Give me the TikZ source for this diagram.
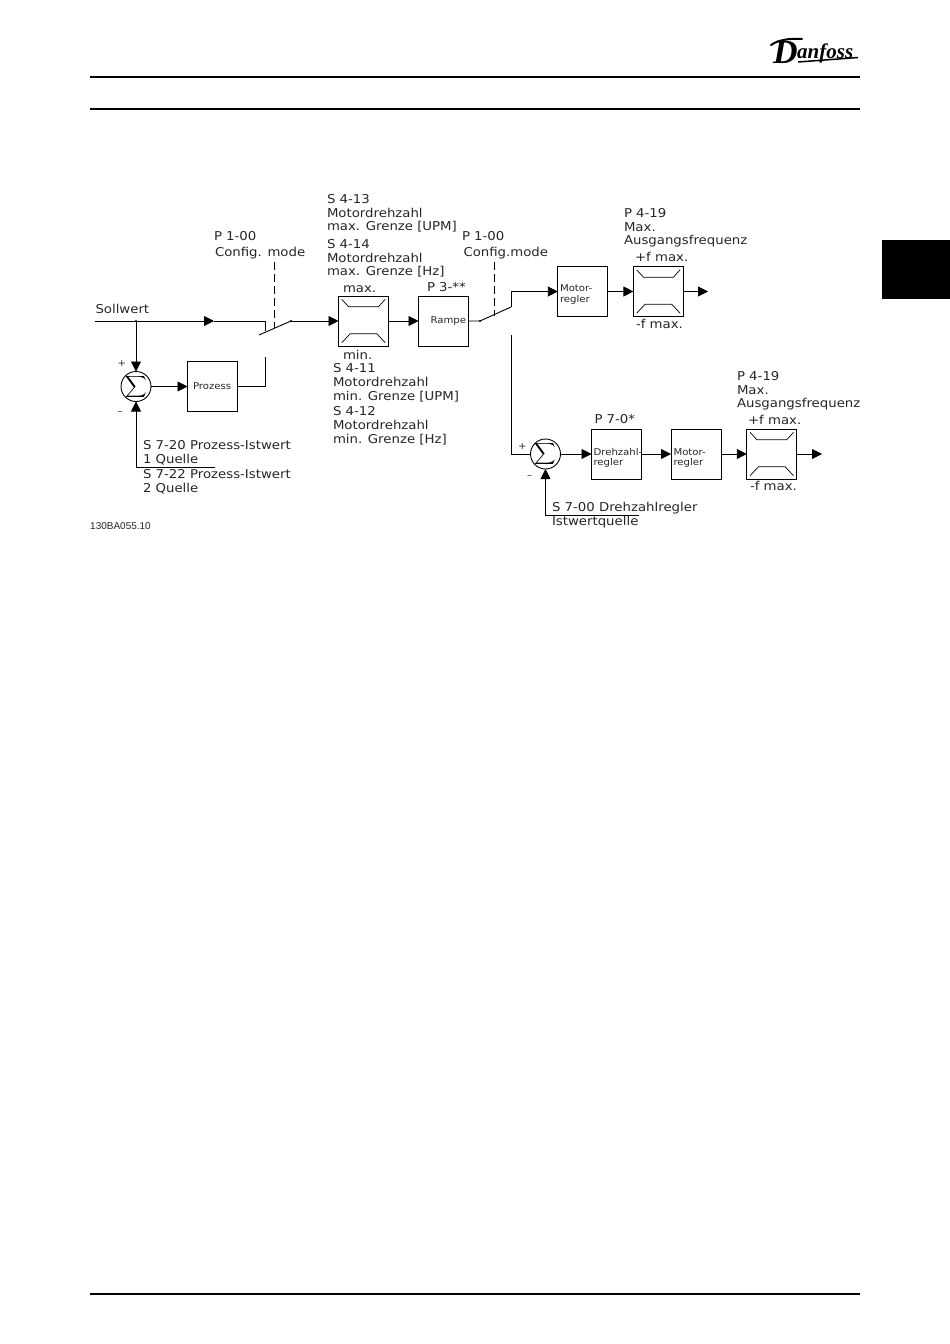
\documentclass[tikz,border=0pt]{standalone}
\usepackage{fontspec}
\setmainfont[FakeStretch=1.09]{DejaVu Sans}
\newfontfamily\cleanfont{Liberation Sans}
\newfontfamily\logofont[BoldItalicFont={Liberation Serif Bold Italic}]{Liberation Serif}
\usetikzlibrary{arrows.meta}
\tikzset{
  wire/.style={line width=0.9pt,black},
  arr/.style={wire,-{Triangle[length=10pt,width=10pt]}},
  dashline/.style={line width=0.8pt,dash pattern=on 8pt off 4pt},
  blockbox/.style={draw,line width=0.9pt,minimum width=50pt,minimum height=50pt,inner sep=0pt,outer sep=0pt},
  sumnode/.style={draw,circle,line width=0.9pt,minimum size=30pt,inner sep=0pt,outer sep=0pt,
    label={[inner sep=0pt]center:{\scalebox{1.5}{$\displaystyle\sum$}}}},
  txt/.style={anchor=base west,inner sep=0pt,outer sep=0pt,yshift=-0.7pt,font=\fontsize{12.2}{14}\selectfont,text=black!85},
  small/.style={anchor=base west,inner sep=0pt,outer sep=0pt,font=\fontsize{9.3}{10}\selectfont,text=black!85},
  rulebar/.style={line width=2pt,black},
  limitline/.style={line width=0.7pt}
}
\newcommand{\limitermarks}[1]{%
  \draw[limitline] ([shift={(3.3,3.3)}]#1.north west) -- ([shift={(10,10.7)}]#1.north west) -- ([shift={(40,10.7)}]#1.north west) -- ([shift={(46.7,3.3)}]#1.north west);
  \draw[limitline] ([shift={(3.3,-3.3)}]#1.south west) -- ([shift={(11.7,-12.3)}]#1.south west) -- ([shift={(38.3,-12.3)}]#1.south west) -- ([shift={(46.7,-3.3)}]#1.south west);
}
\begin{document}
\begin{tikzpicture}[x=1pt,y=-1pt]
\useasboundingbox (0,0) rectangle (950,1344);
% page furniture
\coordinate (hla) at (90,77); \coordinate (hlb) at (860,77);
\coordinate (hma) at (90,109); \coordinate (hmb) at (860,109);
\coordinate (fla) at (90,1294); \coordinate (flb) at (860,1294);
\draw[rulebar] (hla) -- (hlb);
\draw[rulebar] (hma) -- (hmb);
\draw[rulebar] (fla) -- (flb);
\fill[black] (882,240) rectangle (950,299);
% logo
\node[anchor=base west,inner sep=0pt,font=\logofont\bfseries\itshape\fontsize{34}{34}\selectfont] (logod) at (773,63) {D};
\node[anchor=base west,inner sep=0pt,font=\logofont\bfseries\itshape\fontsize{21}{21}\selectfont] (logot) at (797,58) {anfoss};
\coordinate (loga) at (798,62); \coordinate (logb) at (858,57.5);
\coordinate (logc) at (771,45); \coordinate (logd) at (802,39);
\draw[line width=1.5pt] (loga) -- (logb);
\draw[line width=2pt,line cap=round] (logc) .. controls (778,40) and (790,38) .. (logd);

% blocks
\node[blockbox] (lim1) at (363.5,321) {};
\node[blockbox] (ramp) at (443.5,321) {};
\node[blockbox] (proz) at (212.5,386.5) {};
\node[blockbox] (mot1) at (582.8,291.5) {};
\node[blockbox] (lim2) at (658.4,291.5) {};
\node[blockbox] (dreh) at (616.5,454) {};
\node[blockbox] (mot2) at (696,454) {};
\node[blockbox] (lim3) at (771.8,454) {};
\limitermarks{lim1}\limitermarks{lim2}\limitermarks{lim3}
\node[sumnode] (sum1) at (136,386.5) {};
\node[sumnode] (sum2) at (545.5,454) {};

% junctions and free ends
\coordinate (sw) at (95,321);
\coordinate (jb) at (136,321);
\coordinate (m1) at (214,321);
\coordinate (sw1c) at (265,321);
\coordinate (sw1d) at (265,331);
\coordinate (sw1a) at (259,335);
\coordinate (sw1b) at (291,321);
\coordinate (pzup) at (265,357);
\coordinate (pzcorner) at (265,386.5);
\coordinate (fb1) at (215,467);
\coordinate (fb1c) at (136,467);
\coordinate (d1a) at (274.5,262);
\coordinate (d1b) at (274.5,328);
\coordinate (sw2a) at (480,321);
\coordinate (sw2b) at (511,307);
\coordinate (up) at (511,291.5);
\coordinate (d2a) at (494,262);
\coordinate (d2b) at (494,316);
\coordinate (out1) at (708,291.5);
\coordinate (lowt) at (511,335);
\coordinate (lowc) at (511,454);
\coordinate (out2) at (822,454);
\coordinate (fb2) at (639,515);
\coordinate (fb2c) at (545.5,515);

% connectors
\draw[arr] (sw) -- (m1);
\draw[wire] (m1) -- (sw1c) -- (sw1d);
\draw[wire] (sw1a) -- (sw1b);
\draw[arr] (sw1b) -- (lim1.west);
\draw[arr] (lim1.east) -- (ramp.west);
\draw[wire] (ramp.east) -- (sw2a) -- (sw2b);
\fill (sw1b) circle (1.1pt);
\fill (sw2a) circle (1.1pt);
\fill (jb) circle (1.1pt);
\draw[arr] (jb) -- (sum1.north);
\draw[arr] (sum1.east) -- (proz.west);
\draw[wire] (proz.east) -- (pzcorner) -- (pzup);
\draw[arr] (fb1) -- (fb1c) -- (sum1.south);
\draw[dashline] (d1a) -- (d1b);
\draw[dashline] (d2a) -- (d2b);
\draw[arr] (sw2b) -- (up) -- (mot1.west);
\draw[arr] (mot1.east) -- (lim2.west);
\draw[arr] (lim2.east) -- (out1);
\draw[wire] (lowt) -- (lowc) -- (sum2.west);
\draw[arr] (sum2.east) -- (dreh.west);
\draw[arr] (dreh.east) -- (mot2.west);
\draw[arr] (mot2.east) -- (lim3.west);
\draw[arr] (lim3.east) -- (out2);
\draw[arr] (fb2) -- (fb2c) -- (sum2.south);

% labels
\node[txt] (a1) at (327,202.7) {S 4-13};
\node[txt] (a2) at (327,216.7) {Motordrehzahl};
\node[txt] (a3) at (327,230) {max. Grenze [UPM]};
\node[txt] (a4) at (327,247.7) {S 4-14};
\node[txt] (a5) at (327,261.7) {Motordrehzahl};
\node[txt] (a6) at (327,275) {max. Grenze [Hz]};
\node[txt] (a7) at (343,292) {max.};
\node[txt] (a8) at (427,291) {P 3-**};
\node[txt] (a9) at (343,359) {min.};
\node[txt] (b1) at (333,372) {S 4-11};
\node[txt] (b2) at (333,386) {Motordrehzahl};
\node[txt] (b3) at (333,400) {min. Grenze [UPM]};
\node[txt] (b4) at (333,415) {S 4-12};
\node[txt] (b5) at (333,429) {Motordrehzahl};
\node[txt] (b6) at (333,443) {min. Grenze [Hz]};
\node[txt] (c1) at (214,240) {P 1-00};
\node[txt] (c2) at (215,255.7) {Config. mode};
\node[txt] (c3) at (95.5,312.7) {Sollwert};
\node[txt] (c4) at (143,448.7) {S 7-20 Prozess-Istwert};
\node[txt] (c5) at (143,462.7) {1 Quelle};
\node[txt] (c6) at (143,477.7) {S 7-22 Prozess-Istwert};
\node[txt] (c7) at (143,491.7) {2 Quelle};
\node[anchor=base west,inner sep=0pt,font=\cleanfont\fontsize{10}{10}\selectfont,text=black!85] (c8) at (90,529) {130BA055.10};
\node[small] (d1) at (193,389) {Prozess};
\node[small] (d2) at (430.5,323) {Rampe};
\node[small] (d3) at (117.5,366) {+};
\node[small] (d4) at (117.5,414) {--};
\node[txt] (e1) at (462,240) {P 1-00};
\node[txt] (e2) at (463.5,255.7) {Config.mode};
\node[txt] (e3) at (624,217) {P 4-19};
\node[txt] (e4) at (624,231) {Max.};
\node[txt] (e5) at (624,244) {Ausgangsfrequenz};
\node[txt] (e6) at (635,261) {+f max.};
\node[txt] (e7) at (636,327.7) {-f max.};
\node[small] (e8) at (560,291.7) {Motor-};
\node[small] (e9) at (560,302.7) {regler};
\node[txt] (f1) at (737,380) {P 4-19};
\node[txt] (f2) at (737,394) {Max.};
\node[txt] (f3) at (737,406.7) {Ausgangsfrequenz};
\node[txt] (f4) at (748,424) {+f max.};
\node[txt] (f5) at (750,490) {-f max.};
\node[txt] (f6) at (594.5,422.7) {P 7-0*};
\node[small] (f7) at (593.5,455) {Drehzahl-};
\node[small] (f8) at (593.5,465.7) {regler};
\node[small] (f9) at (673.5,455) {Motor-};
\node[small] (g1) at (673.5,465.7) {regler};
\node[txt] (g2) at (552,510.7) {S 7-00 Drehzahlregler};
\node[txt] (g3) at (552,524.3) {Istwertquelle};
\node[small] (g4) at (518,449) {+};
\node[small] (g5) at (527,478) {--};
\end{tikzpicture}
\end{document}
